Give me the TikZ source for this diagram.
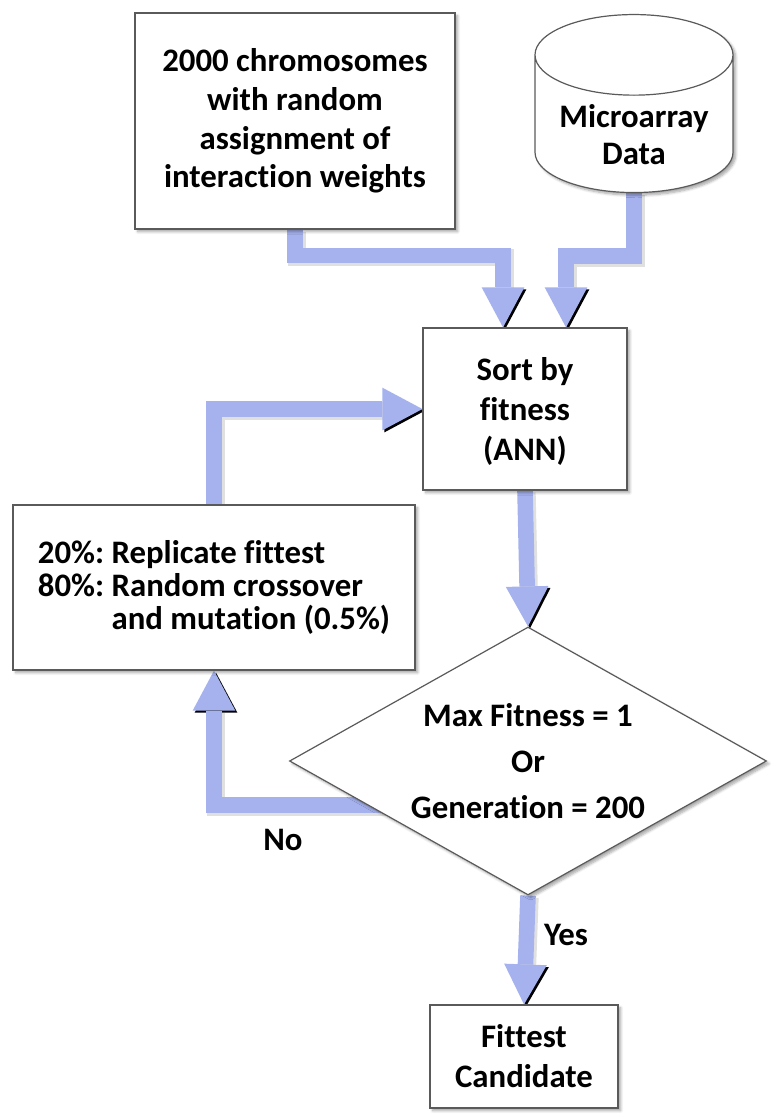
\documentclass[tikz,border=0pt]{standalone}
\usepackage{fontspec}
\setmainfont{Carlito}[Ligatures=NoCommon]
\usetikzlibrary{arrows.meta,shapes.geometric,shadows.blur,backgrounds}
\definecolor{pipeblue}{RGB}{165,178,238}
\definecolor{edgegray}{RGB}{90,90,90}
\tikzset{
  boxshadow/.style={blur shadow={shadow xshift=2pt,shadow yshift=-2pt,shadow blur steps=6,shadow opacity=35}},
  box/.style={draw=edgegray,line width=0.9pt,fill=white,inner sep=0pt,align=center,
    font=\bfseries\fontsize{24.6}{30}\selectfont,boxshadow},
  pipe/.style={draw=pipeblue,line width=11.7pt,line join=miter,
    -{Triangle[width=32pt,length=30pt,line width=0pt]},
    preaction={draw=black,draw opacity=0.12,line width=13pt,transform canvas={xshift=1.5pt,yshift=-1.5pt}}},
  lbl/.style={font=\bfseries\fontsize{24.6}{30}\selectfont,inner sep=0pt}
}
\frenchspacing
\begin{document}
\begin{tikzpicture}[x=0.75pt,y=0.75pt,yscale=-1,xscale=1]
  \useasboundingbox (0,0) rectangle (778,1120);

  \node[box,minimum width=240pt,minimum height=162pt,font=\bfseries\fontsize{24.6}{29}\selectfont] (init) at (295,121)
    {2000 chromosomes\\with random\\assignment of\\interaction weights};
  \node[box,cylinder,shape border rotate=90,aspect=0.54,minimum width=148.5pt,minimum height=133.5pt,
    font=\bfseries\fontsize{24.6}{28}\selectfont] (data) at (634,124)
    {\raisebox{-17pt}[0pt][0pt]{\begin{tabular}{@{}c@{}}Microarray\\Data\end{tabular}}};
  \node[box,minimum width=153pt,minimum height=121.5pt,text depth=0pt] (sort) at (525,409) {Sort by\\fitness\\(ANN)};
  \node[box,minimum width=301.5pt,minimum height=123.75pt,align=left,
    font=\bfseries\fontsize{24.6}{25}\selectfont] (breed) at (214,587.5)
    {20\%: Replicate fittest\\80\%: Random crossover\\\phantom{80\%: }and mutation (0.5\%)};
  \node[box,diamond,minimum width=357.75pt,minimum height=201pt,aspect=1.78,
    font=\bfseries\fontsize{24.6}{34.5}\selectfont] (test) at (528,761)
    {Max Fitness = 1\\Or\\Generation = 200};
  \node[box,minimum width=141pt,minimum height=77.25pt] (fit) at (524,1056.5) {Fittest\\Candidate};

  \node[lbl] (nolbl) at (283,840) {No};
  \node[lbl] (yeslbl) at (566,935) {Yes};

  \coordinate (nofrom) at (400,805);
  \begin{scope}[on background layer]
    \draw[pipe] (init.south) -- ++(0,26) -| ([xshift=-16.5pt]sort.north);
    \draw[pipe] (data.south) -- ++(0,63) -| ([xshift=30.75pt]sort.north);
    \draw[pipe] (breed.north) |- (sort.west);
    \draw[pipe] (sort.south) -- (test.north);
    \draw[pipe] (nofrom) -| (breed.south);
    \draw[pipe] (test.south) -- (fit.north);
  \end{scope}
\end{tikzpicture}
\end{document}
